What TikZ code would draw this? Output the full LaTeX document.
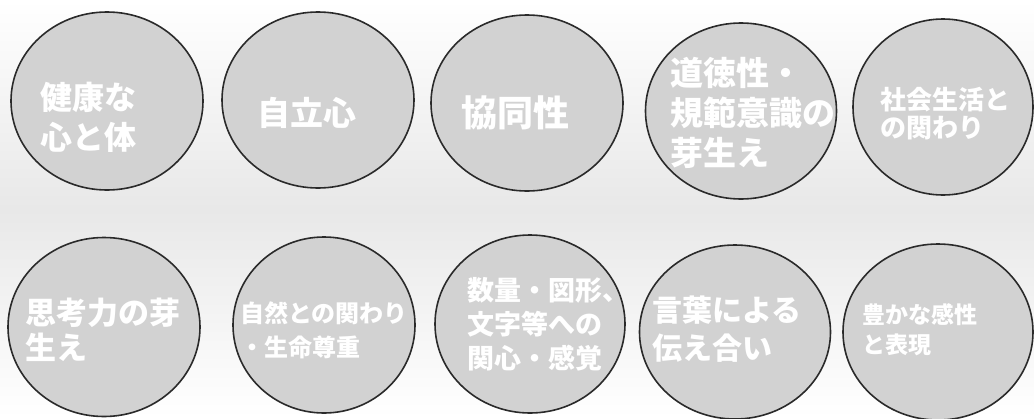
\documentclass[tikz,border=0pt]{standalone}
\usepackage{fontspec}
\newfontfamily\jp{Noto Sans CJK JP}
\usetikzlibrary{shapes.geometric}
\definecolor{bubfill}{HTML}{D2D2D2}
\definecolor{bubline}{HTML}{2A2A2A}
\tikzset{
  bub/.style={ellipse, draw=bubline, line width=1.6pt, fill=bubfill, inner sep=0pt},
  txt/.style={text=white, inner sep=0pt, anchor=west, align=left, font=\jp\bfseries},
}
\newcommand{\fsz}[2]{\fontsize{#1}{#2}\selectfont}
\begin{document}
\begin{tikzpicture}[x=1pt, y=-1pt]
\useasboundingbox (0,0) rectangle (1034,418);
\shade[top color=white, bottom color=white, middle color=black!9] (0,0) rectangle (1034,418);
% row 1
\node[bub, minimum width=192pt, minimum height=178pt] (e1) at (107,101) {};
\node[bub, minimum width=192pt, minimum height=176pt] (e2) at (318,100) {};
\node[bub, minimum width=192pt, minimum height=176pt] (e3) at (527,103) {};
\node[bub, minimum width=191pt, minimum height=176pt] (e4) at (741,111) {};
\node[bub, minimum width=180pt, minimum height=176pt] (e5) at (943,107) {};
% row 2
\node[bub, minimum width=192pt, minimum height=179pt] (e6) at (104,327) {};
\node[bub, minimum width=182pt, minimum height=176pt] (e7) at (324,325) {};
\node[bub, minimum width=190pt, minimum height=178pt] (e8) at (530,324) {};
\node[bub, minimum width=191pt, minimum height=174pt] (e9) at (735,332) {};
\node[bub, minimum width=190pt, minimum height=176pt] (e10) at (938,332) {};
% texts
\node[txt, font=\jp\bfseries\fsz{32}{40}] (t1) at (40,117) {健康な\\心と体};
\node[txt, font=\jp\bfseries\fsz{33}{40}] (t2) at (257,113) {自立心};
\node[txt, font=\jp\bfseries\fsz{36}{40}] (t3) at (461,113) {協同性};
\node[txt, font=\jp\bfseries\fsz{33}{40}] (t4) at (670,113) {道徳性・\\規範意識の\\芽生え};
\node[txt, font=\jp\bfseries\fsz{26}{28}] (t5) at (880,114) {社会生活と\\の関わり};
\node[txt, font=\jp\bfseries\fsz{31}{35}] (t6) at (25,330) {思考力の芽\\生え};
\node[txt, font=\jp\bfseries\fsz{24}{34}] (t7) at (240,330) {自然との関わり\\・生命尊重};
\node[txt, font=\jp\bfseries\fsz{27}{34}] (t8) at (467,324) {数量・図形、\\文字等への\\関心・感覚};
\node[txt, font=\jp\bfseries\fsz{30}{38}] (t9) at (652,329) {言葉による\\伝え合い};
\node[txt, font=\jp\bfseries\fsz{23}{30}] (t10) at (862,330) {豊かな感性\\と表現};
\end{tikzpicture}
\end{document}
